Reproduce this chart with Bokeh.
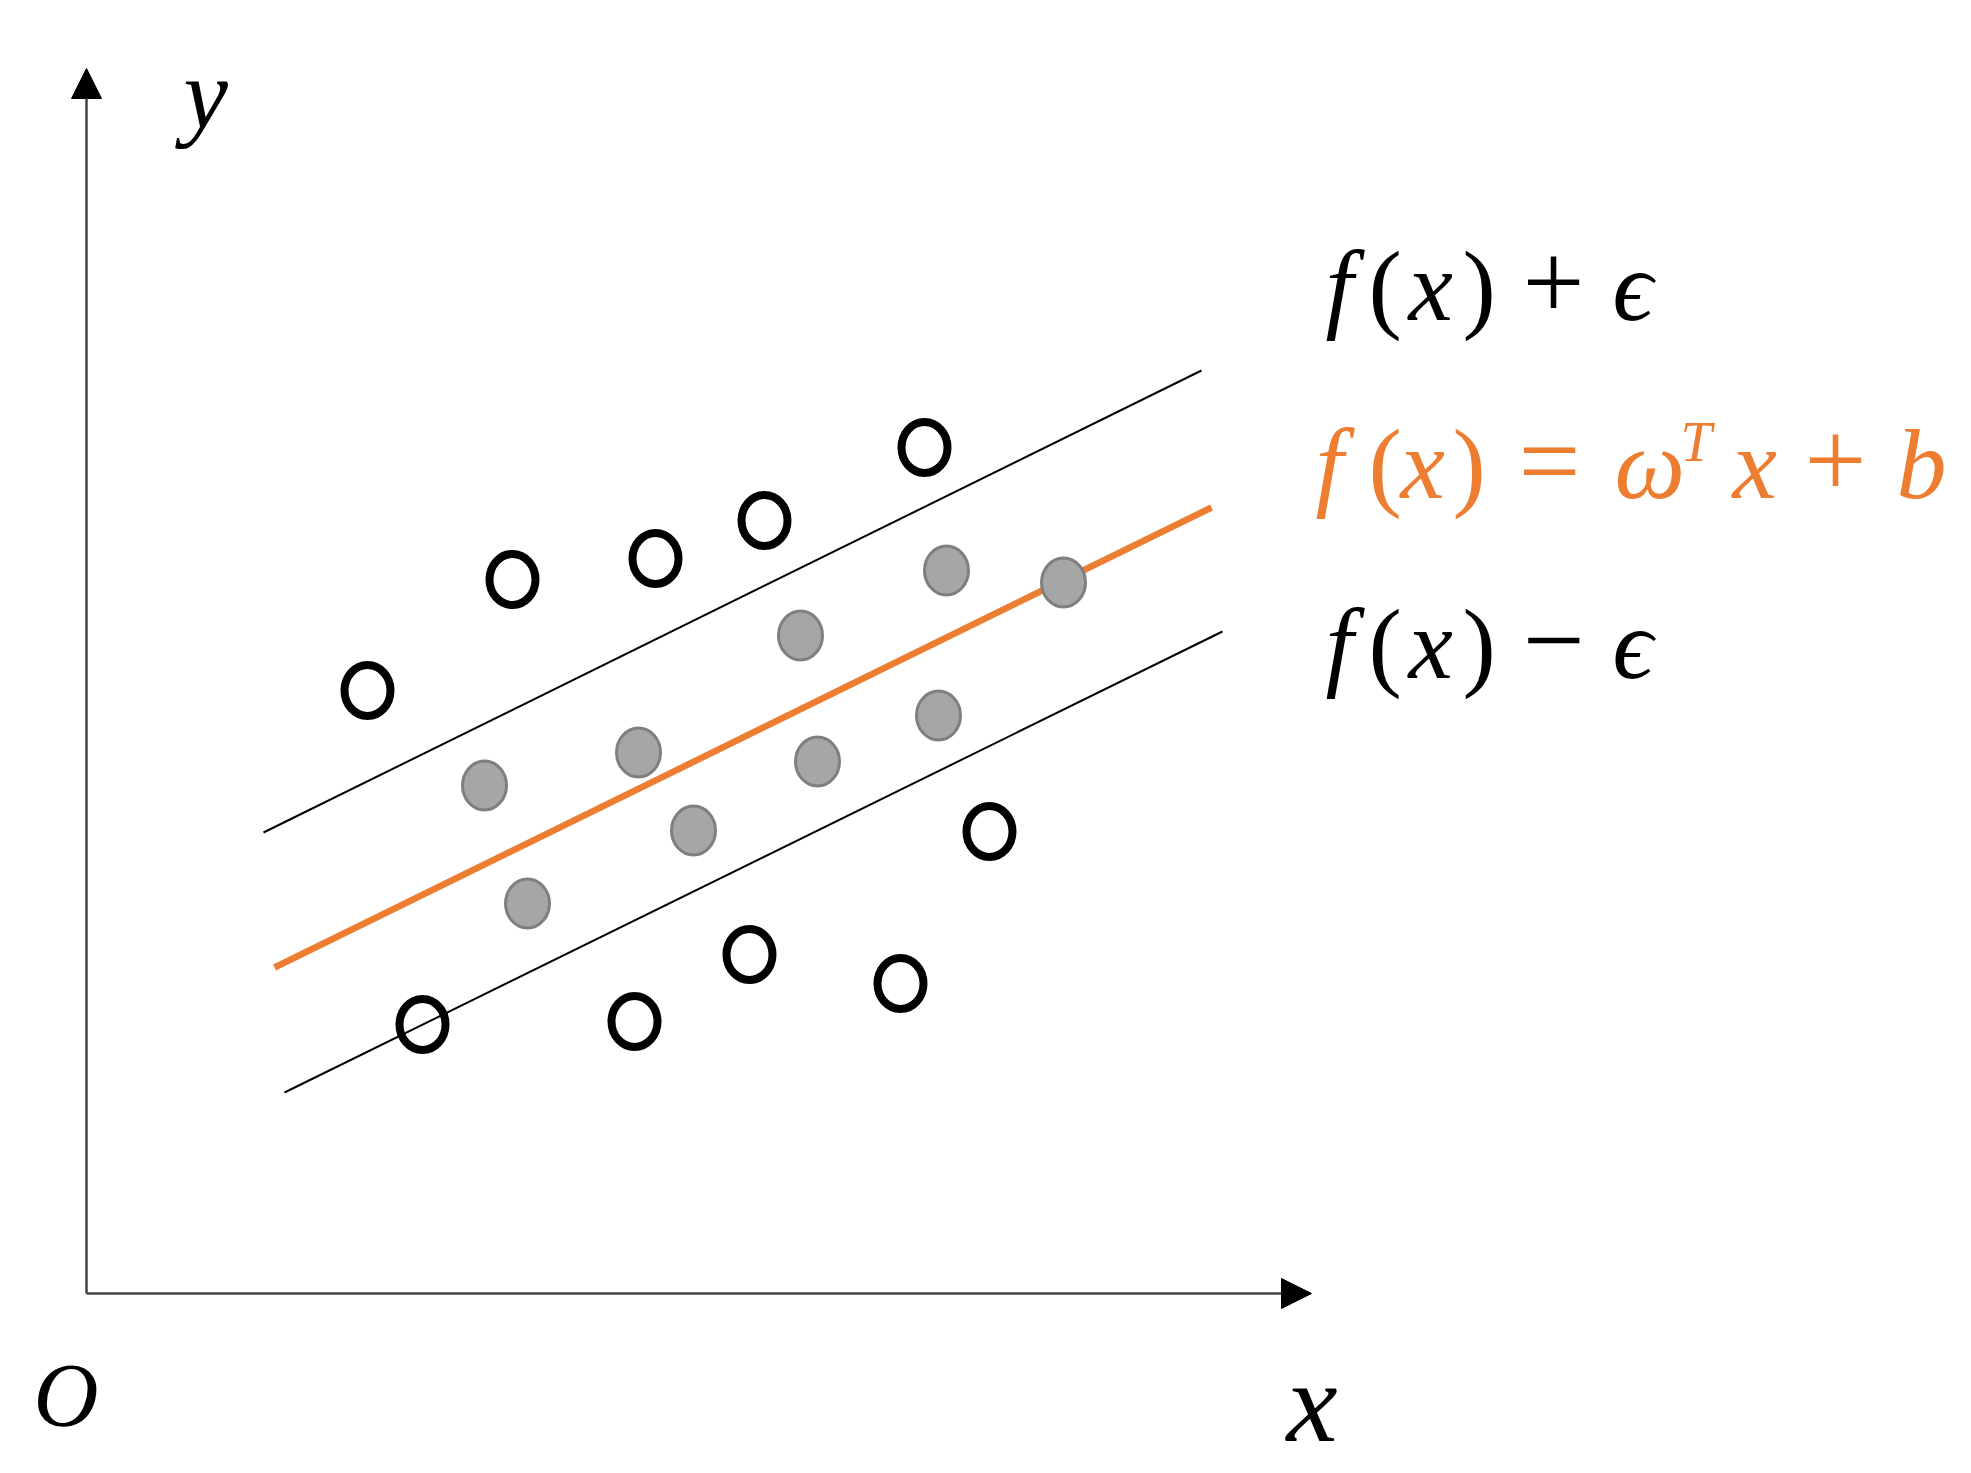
from bokeh.plotting import figure
from bokeh.models import Range1d, Arrow, NormalHead
from bokeh.core.properties import value
from bokeh.embed import file_html
from bokeh.resources import INLINE

# ---- data (abstract diagram units, origin at the axes intersection) ----
outside_x = [2.81, 4.26, 5.69, 6.78, 8.38, 9.03, 6.63, 8.14, 5.48, 3.36]
outside_y = [6.03, 7.14, 7.35, 7.73, 8.46, 4.62, 3.39, 3.10, 2.72, 2.69]

inside_x = [3.98, 4.41, 5.52, 6.07, 7.14, 7.31, 8.52, 8.60, 9.77]
inside_y = [5.08, 3.90, 5.41, 4.63, 6.58, 5.32, 5.78, 7.23, 7.11]

upper_x = [1.77, 11.15]
upper_y = [4.61, 9.23]
fit_x = [1.88, 11.25]
fit_y = [3.26, 7.86]
lower_x = [1.98, 11.36]
lower_y = [2.01, 6.62]

axis_len_x = 12.25
axis_len_y = 12.25

# formula pieces: (text, italic?, relative size)
upper_label = [("f", True, 1.0), ("(", False, 1.0), ("x", True, 1.0), (")", False, 1.0),
               ("+", False, 1.1), ("\u03f5", True, 1.0)]
lower_label = [("f", True, 1.0), ("(", False, 1.0), ("x", True, 1.0), (")", False, 1.0),
               ("\u2212", False, 1.1), ("\u03f5", True, 1.0)]
fit_label = [("f", True, 1.0), ("(", False, 1.0), ("x", True, 1.0), (")", False, 1.0),
             ("=", False, 1.1), ("\u03c9", True, 1.0), ("x", True, 1.0), ("+", False, 1.1),
             ("b", True, 1.0)]
fit_sup = "T"
axis_labels = ["y", "O", "x"]

ORANGE = "#ED7D31"
FONT = "Liberation Serif"

# ---- layout helpers (page pixels -> diagram units) ----
OX, OY, PPU = 86.0, 1293.0, 100.0
W, H = 1971, 1473
BASE_CORR = 0.36  # correction for the renderer's text baseline placement


def ux(px):
    return (px - OX) / PPU


def uy(py):
    return (OY - py) / PPU


p = figure(width=W, height=H, output_backend="svg", toolbar_location=None,
           x_range=Range1d(ux(0), ux(W)), y_range=Range1d(uy(H), uy(0)),
           min_border=0)
p.axis.visible = False
p.grid.visible = False
p.outline_line_color = None
p.background_fill_color = "white"

# axes with arrow heads
for xe, ye in [(0, axis_len_y), (axis_len_x, 0)]:
    p.add_layout(Arrow(end=NormalHead(size=30, fill_color="black", line_color="black"),
                       x_start=0, y_start=0, x_end=xe, y_end=ye,
                       line_color="#444444", line_width=2.5))

# epsilon tube boundaries and fitted line
p.line(upper_x, upper_y, line_color="black", line_width=2)
p.line(lower_x, lower_y, line_color="black", line_width=2)
p.line(fit_x, fit_y, line_color=ORANGE, line_width=6.5)

# points
p.ellipse(x=inside_x, y=inside_y, width=44, height=49,
          width_units="screen", height_units="screen",
          fill_color="#A6A6A6", line_color="#7F7F7F", line_width=3)
p.ellipse(x=outside_x, y=outside_y, width=46, height=51,
          width_units="screen", height_units="screen",
          fill_color=None, line_color="black", line_width=8)


def txt(px, py, s, size, color="black", italic=True):
    p.text(x=[ux(px)], y=[uy(py) + BASE_CORR * size / PPU], text=[s],
           text_font=value(FONT), text_font_size=f"{size}px",
           text_font_style="italic" if italic else "normal",
           text_color=color, text_align="left", text_baseline="alphabetic")


def formula(pieces, lefts, py, size, color="black"):
    for (s, it, rel), lx in zip(pieces, lefts):
        txt(lx, py, s, round(size * rel), color, it)


FS = 100
formula(upper_label, [1325, 1368, 1408, 1462, 1522, 1612], 322, FS)
formula(lower_label, [1325, 1368, 1408, 1462, 1522, 1612], 680, FS)
formula(fit_label, [1315, 1368, 1400, 1452, 1518, 1614, 1732, 1804, 1896], 500, FS, ORANGE)
txt(1680, 462, fit_sup, 56, ORANGE)

txt(183, 130, axis_labels[0], 100)
txt(33, 1427, axis_labels[1], 90)
txt(1286, 1443, axis_labels[2], 115)

open("out.html", "w").write(file_html(p, INLINE))
